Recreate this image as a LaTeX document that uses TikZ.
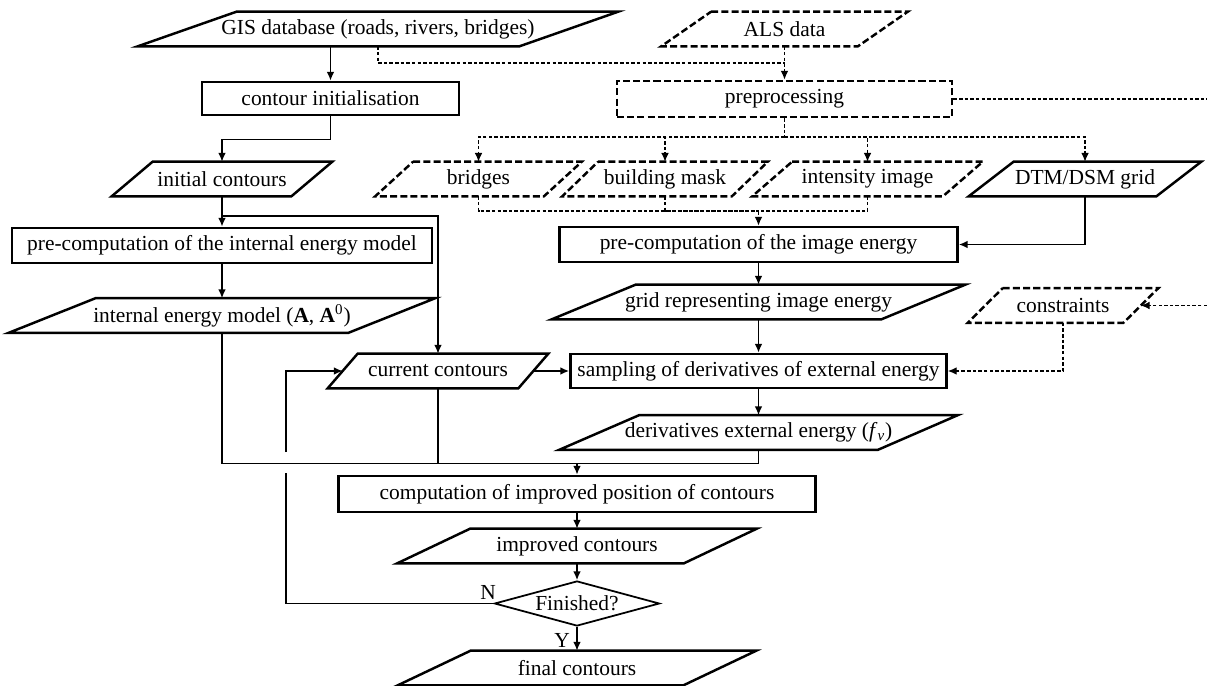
\documentclass[tikz,border=0pt]{standalone}
\usepackage{fontspec}
\setmainfont{Liberation Serif}
\usetikzlibrary{shapes.geometric, arrows.meta}

\tikzset{
  arr/.style={-{Latex[length=5pt,width=4.4pt]}},
  conn/.style={line width=0.85pt},
  dconn/.style={line width=0.65pt, dash pattern=on 2pt off 1.2pt},
  proc/.style={rectangle, draw=black, line width=1.6pt, inner sep=0pt},
  dproc/.style={proc, dash pattern=on 4pt off 1.8pt},
  parabox/.style 2 args={rectangle, inner sep=0pt, minimum height=0.68cm,
    append after command={\pgfextra{\draw[line width=1.4pt, #2]
      ([xshift=#1cm]\tikzlastnode.north west) -- ([xshift=#1cm]\tikzlastnode.north east) --
      ([xshift=-#1cm]\tikzlastnode.south east) -- ([xshift=-#1cm]\tikzlastnode.south west) -- cycle;}}},
  iobox/.style={parabox={#1}{solid}},
  dashio/.style={parabox={#1}{dash pattern=on 4pt off 1.8pt}},
  decision/.style={diamond, draw=black, line width=1pt, inner sep=0pt,
    aspect=3.67, minimum width=3.3cm, minimum height=0.9cm}
}

\begin{document}
\begin{tikzpicture}[font=\fontsize{12.2}{14}\selectfont]
\useasboundingbox (0,0) rectangle (24.14,-13.72);

% input data
\node[iobox=0.99, minimum width=7.62cm] (gis) at (7.56,-0.58) {GIS database (roads, rivers, bridges)};
\node[dashio=0.5, minimum width=3.92cm] (als) at (15.69,-0.58) {ALS data};

\node[proc, minimum width=5.14cm, minimum height=0.66cm] (cinit) at (6.61,-1.97) {contour initialisation};
\node[dproc, minimum width=6.7cm, minimum height=0.72cm] (prep) at (15.69,-1.98) {preprocessing};

\node[iobox=0.41, minimum width=3.58cm] (init) at (4.44,-3.58) {initial contours};
\node[dashio=0.38, minimum width=3.36cm] (bridges) at (9.57,-3.58) {bridges};
\node[dashio=0.36, minimum width=3.38cm] (mask) at (13.30,-3.58) {building mask};
\node[dashio=0.40, minimum width=3.80cm] (intens) at (17.35,-3.58) {intensity image};
\node[iobox=0.45, minimum width=3.74cm] (dtm) at (21.70,-3.58) {DTM/DSM grid};

\node[proc, minimum width=8.4cm, minimum height=0.7cm] (precint) at (4.44,-4.91) {pre-computation of the internal energy model};
\node[proc, minimum width=7.96cm, minimum height=0.7cm] (precimg) at (15.17,-4.89) {pre-computation of the image energy};

\node[iobox=0.87, minimum width=6.78cm] (model) at (4.44,-6.31) {internal energy model (\textbf{A}, \textbf{A}\textsuperscript{0})};
\node[iobox=0.84, minimum width=6.58cm] (grid) at (15.17,-6.04) {grid representing image energy};
\node[dashio=0.35, minimum width=3.1cm] (constr) at (21.26,-6.11) {constraints};

% iteration
\node[iobox=0.3, minimum width=3.8cm] (current) at (8.76,-7.42) {current contours};
\node[proc, minimum width=7.52cm, minimum height=0.68cm] (sampling) at (15.17,-7.42) {sampling of derivatives of external energy};
\node[iobox=0.8, minimum width=6.36cm] (deriv) at (15.17,-8.65) {derivatives external energy (\textit{f}\textsubscript{\textit{v}})};
\node[proc, minimum width=9.54cm, minimum height=0.72cm] (comp) at (11.54,-9.88) {computation of improved position of contours};
\node[iobox=0.73, minimum width=5.72cm] (improved) at (11.54,-10.92) {improved contours};
\node[decision] (fin) at (11.54,-12.07) {Finished?};
\node[iobox=0.73, minimum width=5.7cm] (final) at (11.54,-13.36) {final contours};

\node (no) at (9.76,-11.84) {N};
\node (yes) at (11.24,-12.8) {Y};

% junctions and free ends
\coordinate (alsjoin) at (15.69,-1.26);
\coordinate (pj) at (15.69,-2.74);
\coordinate (edge1) at (24.14,-1.98);
\coordinate (bj) at (15.17,-4.22);
\coordinate (ib) at (4.44,-4.32);
\coordinate (edge2) at (24.14,-6.11);
\coordinate (cj) at (11.54,-9.27);
\coordinate (lp1) at (5.72,-9.46);
\coordinate (lp2) at (5.72,-9.04);

\draw[conn, arr] (gis.south -| cinit.north) -- (cinit.north);
\draw[dconn] (gis.south) |- (alsjoin);
\draw[dconn, arr] (als.south) -- (prep.north);
\draw[conn, arr] (cinit.south) -- ++(0,-0.46) -| (init.north);

\draw[dconn] (prep.south) -- (pj);
\draw[dconn, arr] (pj) -| (bridges.north);
\draw[dconn, arr] (pj) -| (mask.north);
\draw[dconn, arr] (pj) -| (intens.north);
\draw[dconn, arr] (pj) -| (dtm.north);
\draw[dconn] (prep.east) -- (edge1);

\draw[dconn] (bridges.south) |- (bj);
\draw[dconn] (mask.south) |- (bj);
\draw[dconn] (intens.south) |- (bj);
\draw[dconn, arr] (bj) -- (precimg.north);
\draw[conn, arr] (dtm.south) |- (precimg.east);

\draw[conn, arr] (init.south) -- (precint.north);
\draw[conn, arr] (ib) -| (current.north);
\draw[conn, arr] (precint.south) -- (model.north);
\draw[conn, arr] (precimg.south) -- (grid.north);
\draw[conn, arr] (grid.south) -- (sampling.north);
\draw[dconn, arr] (edge2) -- (constr.east);
\draw[dconn, arr] (constr.south) |- (sampling.east);
\draw[conn, arr] (current.east) -- (sampling.west);
\draw[conn, arr] (sampling.south) -- (deriv.north);

\draw[conn] (model.south) |- (cj);
\draw[conn] (current.south) |- (cj);
\draw[conn] (deriv.south) |- (cj);
\draw[conn, arr] (cj) -- (comp.north);
\draw[conn, arr] (comp.south) -- (improved.north);
\draw[conn, arr] (improved.south) -- (fin.north);
\draw[conn, arr] (fin.south) -- (final.north);
\draw[conn] (fin.west) -| (lp1);
\draw[conn, arr] (lp2) |- (current.west);
\end{tikzpicture}
\end{document}
